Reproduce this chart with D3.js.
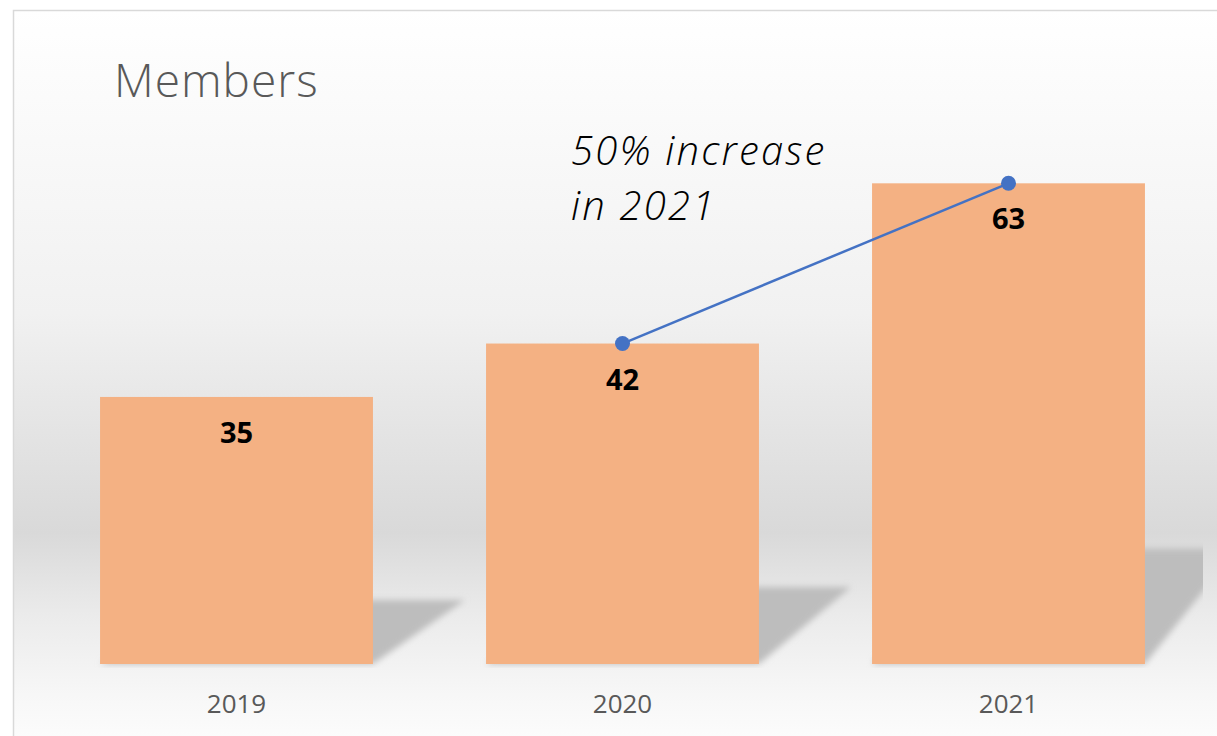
<!DOCTYPE html>
<html>
<head>
<meta charset="utf-8">
<script src="https://cdn.jsdelivr.net/npm/d3@7"></script>
<style>
  html, body { margin: 0; padding: 0; background: #fff; }
  svg { display: block; }
</style>
</head>
<body>
<svg id="chart" width="1217" height="736"></svg>
<script>
const years = ['2019', '2020', '2021'];
const members = [35, 42, 63];
const trendYears = ['2020', '2021'];
const chartTitle = 'Members';
const noteLines = ['50% increase', 'in 2021'];

const svg = d3.select('#chart');
const W = 1217, H = 736;
const base = 664;

const x = d3.scaleBand()
  .domain(years)
  .range([43.5, 1201.5])
  .paddingInner(0.293)
  .paddingOuter(0.1465);

const y = d3.scaleLinear()
  .domain([0, 70])
  .range([base, base - 70 * 7.63]);

const defs = svg.append('defs');

const bg = defs.append('linearGradient')
  .attr('id', 'bg')
  .attr('x1', 0).attr('y1', 0).attr('x2', 0).attr('y2', 1);
[[0, '#ffffff'], [0.4, '#f1f1f1'], [0.69, '#d9d9d9'], [0.8, '#ebebeb'], [0.905, '#f7f7f7'], [1, '#ffffff']]
  .forEach(([o, c]) => bg.append('stop').attr('offset', o).attr('stop-color', c));

defs.append('filter')
  .attr('id', 'blur')
  .attr('x', '-20%').attr('y', '-20%').attr('width', '140%').attr('height', '140%')
  .append('feGaussianBlur')
  .attr('stdDeviation', 3);

defs.append('clipPath')
  .attr('id', 'plotClip')
  .append('rect')
  .attr('x', 43).attr('y', 20).attr('width', 1203 - 43).attr('height', base - 20 + 4);

// chart area with border
svg.append('rect')
  .attr('x', 13.5).attr('y', 10.5)
  .attr('width', W + 20).attr('height', H + 20)
  .attr('fill', 'url(#bg)')
  .attr('stroke', '#d9d9d9')
  .attr('stroke-width', 1.5);

svg.append('text')
  .attr('x', 114).attr('y', 97)
  .attr('font-family', '"Open Sans", sans-serif')
  .attr('font-weight', 300)
  .attr('font-size', 46)
  .attr('letter-spacing', 1)
  .attr('fill', '#595959')
  .text(chartTitle);

const plot = svg.append('g').attr('clip-path', 'url(#plotClip)');

// perspective shadows behind bars
plot.selectAll('path.shadow')
  .data(years)
  .join('path')
  .attr('class', 'shadow')
  .attr('fill', '#bdbdbd')
  .attr('filter', 'url(#blur)')
  .attr('d', (d, i) => {
    const x0 = x(d), x1 = x(d) + x.bandwidth();
    const h = (base - y(members[i])) * 0.24;
    const dx = 92;
    return `M${x0},${base}L${x1},${base}L${x1 + dx},${base - h}L${x0 + dx},${base - h}Z`;
  });

plot.selectAll('rect.bar')
  .data(years)
  .join('rect')
  .attr('class', 'bar')
  .attr('x', d => x(d))
  .attr('width', x.bandwidth())
  .attr('y', (d, i) => y(members[i]))
  .attr('height', (d, i) => base - y(members[i]))
  .attr('fill', '#f4b183');

svg.selectAll('text.val')
  .data(years)
  .join('text')
  .attr('class', 'val')
  .attr('x', d => x(d) + x.bandwidth() / 2)
  .attr('y', (d, i) => y(members[i]) + 46)
  .attr('text-anchor', 'middle')
  .attr('font-family', '"Open Sans", sans-serif')
  .attr('font-weight', 700)
  .attr('font-size', 29)
  .attr('fill', '#000')
  .text((d, i) => members[i]);

// x axis labels
const xAxis = svg.append('g')
  .attr('transform', `translate(0,${base})`)
  .call(d3.axisBottom(x).tickSize(0).tickPadding(49));
xAxis.select('.domain').remove();
xAxis.selectAll('text')
  .attr('font-family', '"Open Sans", sans-serif')
  .attr('font-size', 26)
  .attr('fill', '#595959')
  .attr('dy', 0);

// trend line 2020 -> 2021
const trend = trendYears.map(t => ({ year: t, value: members[years.indexOf(t)] }));
const line = d3.line()
  .x(d => x(d.year) + x.bandwidth() / 2)
  .y(d => y(d.value));

svg.append('path')
  .datum(trend)
  .attr('fill', 'none')
  .attr('stroke', '#4472c4')
  .attr('stroke-width', 2.5)
  .attr('d', line);

svg.selectAll('circle.pt')
  .data(trend)
  .join('circle')
  .attr('class', 'pt')
  .attr('cx', d => x(d.year) + x.bandwidth() / 2)
  .attr('cy', d => y(d.value))
  .attr('r', 7.5)
  .attr('fill', '#4472c4');

svg.append('text')
  .attr('font-family', '"Open Sans", sans-serif')
  .attr('font-style', 'italic')
  .attr('font-weight', 300)
  .attr('font-size', 40)
  .attr('letter-spacing', 2.2)
  .attr('fill', '#000')
  .selectAll('tspan')
  .data(noteLines)
  .join('tspan')
  .attr('x', 571)
  .attr('y', (d, i) => 165 + i * 55)
  .text(d => d);
</script>
</body>
</html>
